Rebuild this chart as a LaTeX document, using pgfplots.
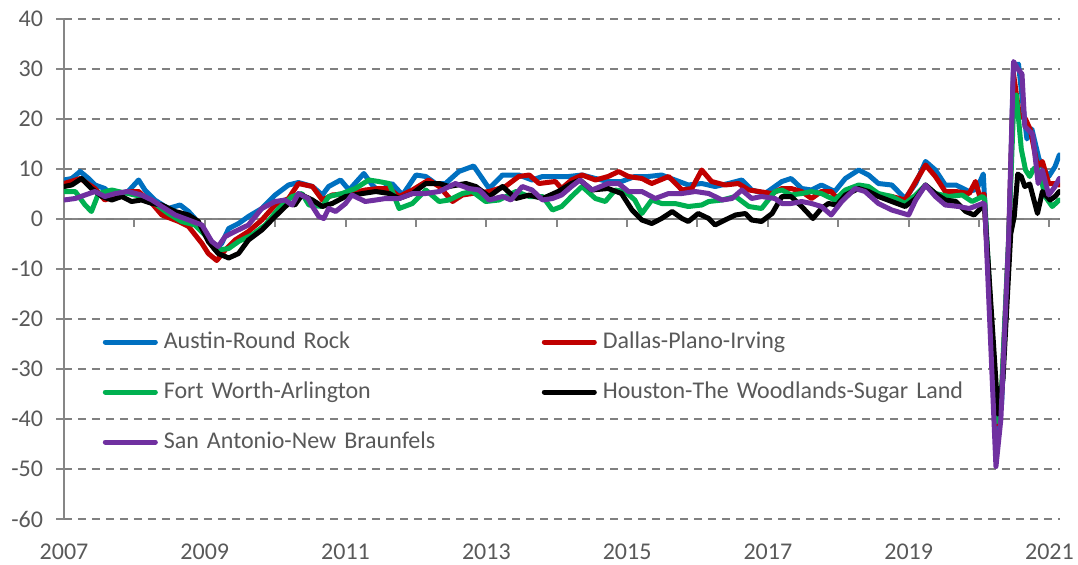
\documentclass[border=0pt]{standalone}
\usepackage{fontspec}
\setmainfont{Carlito}
\usepackage{pgfplots}
\pgfplotsset{compat=1.18}
\definecolor{cAus}{RGB}{0,112,192}
\definecolor{cDal}{RGB}{192,0,0}
\definecolor{cFtw}{RGB}{0,176,80}
\definecolor{cHou}{RGB}{0,0,0}
\definecolor{cSan}{RGB}{112,48,160}
\definecolor{axgray}{RGB}{134,134,134}
\definecolor{gridgray}{RGB}{128,128,128}
\definecolor{txtgray}{RGB}{89,89,89}
\begin{document}
\begin{tikzpicture}
\useasboundingbox (-32pt,-22.5pt) rectangle (507pt,259.5pt);
% zero line with year ticks
\begin{axis}[
  scale only axis, width=498pt, height=250pt,
  xmin=2007, xmax=2021.15, ymin=-60, ymax=40,
  axis x line=middle, axis y line=none,
  axis line style={axgray, line width=1pt, -},
  xtick={2008,2009,...,2021}, xticklabels={},
  tick align=outside, major tick length=4pt,
  x tick style={axgray, line width=1pt},
  ytick=\empty,
]
\end{axis}
\begin{axis}[
  scale only axis, width=498pt, height=250pt,
  xmin=2007, xmax=2021.15, ymin=-60, ymax=40,
  axis y line*=left, axis x line*=bottom,
  x axis line style={draw=none},
  y axis line style={axgray, line width=1pt},
  xtick={2007,2009,2011,2013,2015,2017,2019,2021},
  xticklabels={2007,2009,2011,2013,2015,2017,2019,2021},
  x tick style={draw=none},
  ytick={-60,-50,-40,-30,-20,-10,0,10,20,30,40},
  yticklabels={-60,-50,-40,-30,-20,-10,0,10,20,30,40},
  y tick style={axgray, line width=1pt},
  tick align=outside, major tick length=4pt,
  ymajorgrids,
  grid style={gridgray, line width=0.75pt, dash pattern=on 4.2pt off 2.8pt},
  ticklabel style={font=\fontsize{12}{14}\selectfont, text=txtgray},
  yticklabel style={xshift=-3pt},
  xticklabel style={yshift=-5pt},
  every axis plot/.append style={line width=2.5pt, line join=round, line cap=round},
  legend columns=2,
  legend cell align=left,
  legend style={draw=none, fill=none, inner sep=0pt, outer sep=0pt,
    at={(0.039,0.378)}, anchor=north west,
    font=\fontsize{12}{14}\selectfont, text=txtgray,
    row sep=13pt,
    nodes={text width=186pt, align=left, inner xsep=3pt, inner ysep=0pt, text height=9pt, text depth=3pt}},
  legend image code/.code={\draw[#1] (1pt,0pt) -- (26pt,0pt);},
]
\addplot[cAus] coordinates {(2007.00,7.8)(2007.11,8.1)(2007.23,9.5)(2007.35,8.1)(2007.44,6.8)(2007.58,6.1)(2007.68,4.8)(2007.91,5.5)(2008.06,7.8)(2008.15,5.8)(2008.29,3.8)(2008.48,2.1)(2008.65,2.8)(2008.77,1.5)(2008.86,0.1)(2009.00,-2.9)(2009.15,-6.2)(2009.24,-4.9)(2009.34,-1.9)(2009.48,-0.9)(2009.62,0.5)(2009.81,2.1)(2010.00,4.8)(2010.19,6.8)(2010.33,7.3)(2010.53,6.5)(2010.67,4.8)(2010.76,6.5)(2010.93,7.8)(2011.05,5.8)(2011.26,9.1)(2011.38,6.8)(2011.47,5.5)(2011.66,7.1)(2011.81,4.8)(2012.00,8.8)(2012.14,8.5)(2012.28,7.1)(2012.42,7.1)(2012.61,9.5)(2012.82,10.6)(2013.04,6.1)(2013.23,8.8)(2013.46,8.8)(2013.65,7.8)(2013.80,8.5)(2013.98,8.5)(2014.17,8.5)(2014.36,8.8)(2014.55,8.1)(2014.73,7.5)(2014.92,7.5)(2015.11,8.5)(2015.30,8.5)(2015.49,8.8)(2015.68,7.8)(2015.87,6.8)(2016.06,7.1)(2016.25,6.5)(2016.44,7.1)(2016.63,7.8)(2016.77,5.8)(2016.96,5.1)(2017.20,7.5)(2017.33,8.1)(2017.48,6.1)(2017.62,5.8)(2017.76,6.8)(2017.95,5.5)(2018.10,8.1)(2018.29,9.8)(2018.43,8.8)(2018.57,7.1)(2018.76,6.8)(2018.95,4.1)(2019.10,7.1)(2019.24,11.5)(2019.38,9.8)(2019.52,6.8)(2019.67,6.8)(2019.86,5.5)(2019.97,6.0)(2020.06,9.0)(2020.25,-43)(2020.32,-37)(2020.42,-6)(2020.49,30.5)(2020.56,31)(2020.63,22)(2020.68,16)(2020.75,18)(2020.85,12.1)(2020.90,10.5)(2020.99,8.5)(2021.08,10.5)(2021.14,12.8)};
\addlegendentry{Austin-Round Rock}
\addplot[cDal] coordinates {(2007.00,7.1)(2007.12,7.6)(2007.23,8.1)(2007.44,6.1)(2007.58,3.8)(2007.75,4.8)(2007.91,5.5)(2008.06,5.5)(2008.25,3.1)(2008.39,0.8)(2008.63,-0.5)(2008.77,-1.5)(2008.96,-4.9)(2009.05,-6.9)(2009.17,-8.3)(2009.29,-6.2)(2009.43,-4.2)(2009.62,-2.5)(2009.81,-0.2)(2010.00,2.8)(2010.19,4.1)(2010.33,7.1)(2010.53,6.5)(2010.67,3.8)(2010.81,4.8)(2011.05,5.1)(2011.28,5.8)(2011.47,6.1)(2011.62,6.1)(2011.76,4.5)(2011.95,5.8)(2012.18,7.8)(2012.33,6.5)(2012.52,3.5)(2012.66,4.8)(2012.80,5.1)(2013.04,5.5)(2013.27,6.5)(2013.46,8.5)(2013.61,8.8)(2013.75,7.1)(2013.98,7.5)(2014.07,6.1)(2014.21,7.8)(2014.36,8.8)(2014.55,7.8)(2014.73,8.5)(2014.88,9.5)(2015.02,8.5)(2015.21,8.1)(2015.35,7.1)(2015.59,8.5)(2015.78,5.8)(2015.92,6.1)(2016.06,9.8)(2016.20,7.5)(2016.39,6.8)(2016.58,7.1)(2016.73,5.8)(2016.87,5.5)(2017.06,5.1)(2017.20,6.1)(2017.33,6.1)(2017.48,5.5)(2017.62,4.1)(2017.76,5.5)(2017.90,5.5)(2018.00,3.8)(2018.14,5.8)(2018.29,6.5)(2018.43,5.8)(2018.57,4.8)(2018.76,4.5)(2018.95,3.8)(2019.10,7.5)(2019.24,10.8)(2019.38,8.5)(2019.52,5.5)(2019.67,5.5)(2019.86,5.1)(2019.95,7.5)(2020.01,4.5)(2020.07,5.0)(2020.25,-41)(2020.32,-35)(2020.42,-5)(2020.49,29)(2020.57,21)(2020.66,20)(2020.73,17.8)(2020.83,10.5)(2020.90,11.5)(2020.99,7.1)(2021.08,7.1)(2021.14,6.8)};
\addlegendentry{Dallas-Plano-Irving}
\addplot[cFtw] coordinates {(2007.00,5.5)(2007.16,5.5)(2007.30,2.8)(2007.39,1.5)(2007.49,5.1)(2007.68,5.8)(2007.77,5.5)(2007.91,5.1)(2008.10,4.5)(2008.29,3.1)(2008.48,1.1)(2008.67,-0.5)(2008.86,-1.2)(2009.05,-3.9)(2009.19,-6.2)(2009.34,-5.9)(2009.48,-4.5)(2009.67,-3.2)(2009.86,-1.2)(2010.05,2.1)(2010.24,4.5)(2010.38,5.1)(2010.48,2.8)(2010.67,2.5)(2010.76,4.5)(2010.95,5.1)(2011.14,6.1)(2011.33,7.8)(2011.47,7.5)(2011.62,7.1)(2011.76,2.1)(2011.95,3.1)(2012.14,5.8)(2012.33,3.5)(2012.47,3.8)(2012.66,5.1)(2012.80,5.5)(2012.99,3.5)(2013.18,3.8)(2013.42,5.5)(2013.61,4.5)(2013.80,4.5)(2013.94,1.8)(2014.07,2.5)(2014.21,4.5)(2014.36,6.5)(2014.55,4.1)(2014.69,3.5)(2014.83,5.8)(2014.97,5.5)(2015.11,3.8)(2015.21,1.1)(2015.35,3.8)(2015.49,3.1)(2015.68,3.1)(2015.87,2.5)(2016.06,2.8)(2016.16,3.5)(2016.35,3.8)(2016.54,4.5)(2016.73,2.5)(2016.91,2.1)(2017.10,5.5)(2017.20,5.8)(2017.33,4.8)(2017.48,5.1)(2017.62,5.5)(2017.76,5.1)(2017.95,3.8)(2018.10,5.8)(2018.29,6.8)(2018.43,6.5)(2018.57,5.1)(2018.76,4.5)(2018.95,3.1)(2019.10,4.8)(2019.24,6.8)(2019.38,5.1)(2019.57,4.5)(2019.76,4.8)(2019.90,3.5)(2020.05,4.5)(2020.08,4.0)(2020.25,-40.5)(2020.32,-34)(2020.42,-4)(2020.49,22)(2020.53,24.8)(2020.60,14)(2020.66,9.8)(2020.72,8.5)(2020.78,10.1)(2020.85,9.8)(2020.94,4.5)(2021.04,2.5)(2021.14,3.8)};
\addlegendentry{Fort Worth-Arlington}
\addplot[cHou] coordinates {(2007.00,6.5)(2007.11,6.8)(2007.25,8.1)(2007.39,6.1)(2007.54,4.5)(2007.68,3.8)(2007.82,4.5)(2007.96,3.5)(2008.10,3.8)(2008.25,3.1)(2008.39,2.8)(2008.58,1.5)(2008.77,0.8)(2008.91,-0.5)(2009.05,-4.5)(2009.19,-6.9)(2009.34,-7.8)(2009.48,-6.9)(2009.62,-4.2)(2009.81,-2.2)(2010.00,0.5)(2010.19,3.1)(2010.28,2.8)(2010.38,4.8)(2010.53,3.8)(2010.67,2.5)(2010.81,3.1)(2011.00,4.5)(2011.24,5.1)(2011.43,5.5)(2011.62,5.1)(2011.76,4.1)(2011.95,5.1)(2012.14,7.1)(2012.33,7.1)(2012.47,6.5)(2012.71,7.1)(2012.85,6.5)(2013.04,4.5)(2013.23,6.5)(2013.42,4.1)(2013.61,4.8)(2013.80,4.1)(2014.02,5.5)(2014.21,7.1)(2014.33,7.8)(2014.50,5.8)(2014.73,6.1)(2014.92,5.1)(2015.07,1.8)(2015.21,-0.2)(2015.35,-0.9)(2015.49,0.1)(2015.64,1.5)(2015.78,0.1)(2015.87,-0.5)(2016.01,1.1)(2016.16,0.1)(2016.25,-1.2)(2016.39,-0.2)(2016.54,0.8)(2016.68,1.1)(2016.77,-0.2)(2016.91,-0.5)(2017.06,1.1)(2017.20,4.5)(2017.33,4.5)(2017.48,2.5)(2017.64,0.1)(2017.76,2.1)(2017.86,3.1)(2017.98,2.8)(2018.10,4.8)(2018.29,6.1)(2018.43,5.5)(2018.57,4.5)(2018.76,3.5)(2018.95,2.5)(2019.10,4.1)(2019.24,6.8)(2019.38,5.1)(2019.52,3.8)(2019.67,3.5)(2019.81,1.5)(2019.93,0.8)(2020.05,2.5)(2020.08,2.0)(2020.27,-39)(2020.34,-32)(2020.45,-3)(2020.50,0.5)(2020.55,9.0)(2020.60,8.5)(2020.65,6.5)(2020.72,7.0)(2020.83,1.1)(2020.90,5.5)(2021.01,3.8)(2021.08,4.5)(2021.14,5.5)};
\addlegendentry{Houston-The Woodlands-Sugar Land}
\addplot[cSan] coordinates {(2007.00,3.8)(2007.16,4.1)(2007.30,4.8)(2007.44,5.5)(2007.58,4.5)(2007.73,5.1)(2007.91,5.5)(2008.10,4.8)(2008.25,3.8)(2008.39,2.5)(2008.58,0.8)(2008.77,-0.2)(2008.96,-1.2)(2009.10,-4.5)(2009.19,-5.5)(2009.29,-3.5)(2009.43,-2.5)(2009.62,-1.2)(2009.81,2.1)(2010.00,3.5)(2010.14,3.8)(2010.24,2.8)(2010.33,5.1)(2010.47,4.1)(2010.53,2.5)(2010.62,0.5)(2010.69,0.1)(2010.76,2.1)(2010.86,1.5)(2011.00,3.1)(2011.09,4.8)(2011.28,3.5)(2011.43,3.8)(2011.57,4.1)(2011.76,4.1)(2011.95,5.1)(2012.14,5.1)(2012.33,5.5)(2012.56,7.1)(2012.75,6.1)(2012.90,5.8)(2013.04,3.8)(2013.23,4.5)(2013.35,3.8)(2013.51,6.5)(2013.65,5.8)(2013.80,3.8)(2013.94,4.1)(2014.07,4.8)(2014.21,6.5)(2014.33,7.8)(2014.50,5.8)(2014.73,7.1)(2014.88,7.1)(2015.02,5.5)(2015.21,5.5)(2015.40,4.1)(2015.59,5.1)(2015.78,5.1)(2015.97,5.5)(2016.16,5.1)(2016.35,3.8)(2016.49,4.1)(2016.63,5.8)(2016.77,4.1)(2016.91,4.5)(2017.10,4.1)(2017.20,3.1)(2017.33,3.1)(2017.48,3.5)(2017.62,3.1)(2017.76,2.5)(2017.90,0.8)(2018.05,3.5)(2018.24,6.1)(2018.38,5.5)(2018.57,3.1)(2018.76,1.8)(2019.00,0.8)(2019.10,3.8)(2019.24,6.8)(2019.38,4.5)(2019.52,2.8)(2019.71,2.5)(2019.86,2.1)(2020.05,3.1)(2020.08,3.0)(2020.24,-49.5)(2020.31,-40)(2020.42,-4)(2020.49,31.5)(2020.55,30)(2020.61,29)(2020.65,18.5)(2020.76,17)(2020.84,7.1)(2020.90,9.8)(2020.99,4.8)(2021.08,6.5)(2021.14,8.1)};
\addlegendentry{San Antonio-New Braunfels}
\end{axis}
\end{tikzpicture}
\end{document}
